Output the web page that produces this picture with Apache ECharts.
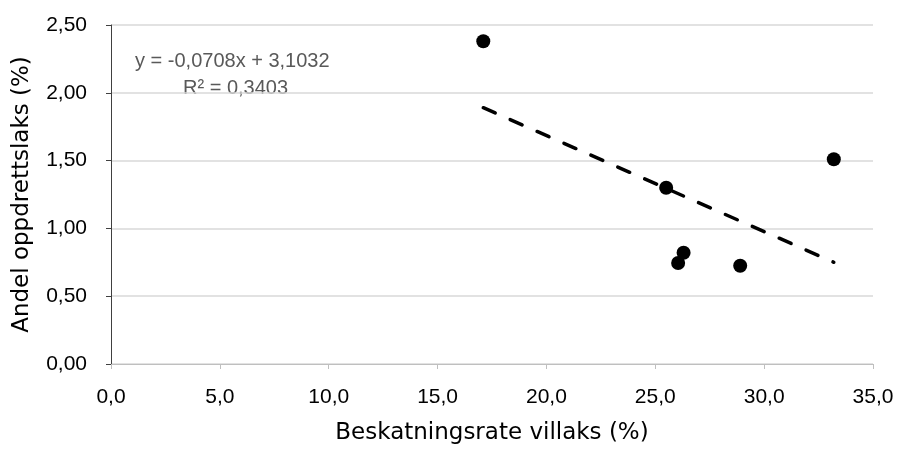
<!DOCTYPE html>
<html><head><meta charset="utf-8">
<script src="https://cdn.jsdelivr.net/npm/echarts@6/dist/echarts.min.js"></script>
<style>html,body{margin:0;padding:0;background:#fff}#c{width:897px;height:450px}</style>
</head><body><div id="c"></div>
<script>
const xTitle = 'Beskatningsrate villaks (%)';
const yTitle = 'Andel oppdrettslaks (%)';
const pointsX = [17.1, 33.2, 25.5, 26.3, 26.05, 28.9];
const pointsY = [2.38, 1.51, 1.30, 0.82, 0.745, 0.725];
const trendX = [17.1, 33.2];
const trendY = [1.89, 0.75];
const equationText = 'y = -0,0708x + 3,1032';
const r2Text = 'R² = 0,3403';

const tickFont = '"Liberation Sans", Arial, sans-serif';
const titleFont = '"DejaVu Sans", sans-serif';
const chart = echarts.init(document.getElementById('c'));
chart.setOption({
  animation: false,
  backgroundColor: '#fff',
  grid: {left: 111, right: 24, top: 25, bottom: 85},
  xAxis: {
    type: 'value', min: 0, max: 35, interval: 5,
    name: xTitle, nameLocation: 'middle', nameGap: 58,
    nameTextStyle: {fontFamily: titleFont, fontSize: 23, color: '#000'},
    axisLine: {show: true, lineStyle: {color: '#bfbfbf', width: 1}},
    axisTick: {show: true, length: 5, lineStyle: {color: '#bfbfbf'}},
    axisLabel: {fontFamily: tickFont, fontSize: 21, color: '#000', margin: 23,
      formatter: v => v.toFixed(1).replace('.', ',')},
    splitLine: {show: false}
  },
  yAxis: {
    type: 'value', min: 0, max: 2.5, interval: 0.5,
    name: yTitle, nameLocation: 'middle', nameGap: 77, nameRotate: 90,
    nameTextStyle: {fontFamily: titleFont, fontSize: 23, color: '#000'},
    axisLine: {show: true, lineStyle: {color: '#404040', width: 1}},
    axisTick: {show: true, length: 5, lineStyle: {color: '#404040'}},
    axisLabel: {fontFamily: tickFont, fontSize: 21, color: '#000', margin: 24,
      formatter: v => v.toFixed(2).replace('.', ',')},
    splitLine: {show: true, lineStyle: {color: '#d9d9d9', width: 1.5}}
  },
  series: [
    {
      type: 'line', data: trendX.map((x, i) => [x, trendY[i]]),
      symbol: 'none', z: 1,
      lineStyle: {color: '#000', width: 3.5, type: [13, 16.4], cap: 'round'}
    },
    {
      type: 'scatter', data: pointsX.map((x, i) => [x, pointsY[i]]),
      symbol: 'circle', symbolSize: 14, z: 2,
      itemStyle: {color: '#000', opacity: 1}
    }
  ],
  graphic: [
    {type: 'text', x: 135, y: 61, style: {text: equationText, font: '20px ' + tickFont, fill: '#595959', verticalAlign: 'middle'}},
    {type: 'text', x: 183, y: 88, style: {text: r2Text, font: '20px ' + tickFont, fill: '#595959', verticalAlign: 'middle'}}
  ]
});
</script></body></html>
